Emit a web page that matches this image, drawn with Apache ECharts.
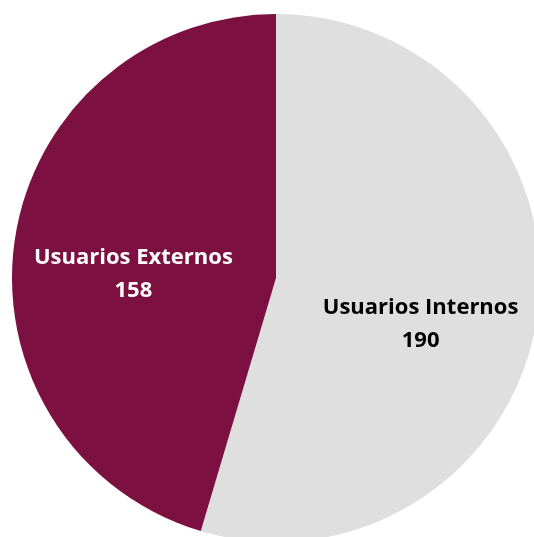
<!DOCTYPE html>
<html>
<head>
<meta charset="utf-8">
<script src="https://cdn.jsdelivr.net/npm/echarts@6/dist/echarts.min.js"></script>
<style>
  html, body { margin: 0; padding: 0; background: #ffffff; }
  #chart { width: 534px; height: 537px; }
</style>
</head>
<body>
<div id="chart"></div>
<script>
// Users by type
const categories = ['Usuarios Internos', 'Usuarios Externos'];
const values = [190, 158];
const colors = ['#dfdfdf', '#7b1041'];
const labelColors = ['#000000', '#ffffff'];
const labelOffsets = [[11, 27], [-9, 16]];

const chart = echarts.init(document.getElementById('chart'), null, { renderer: 'canvas' });

const data = categories.map((name, i) => ({
  name: name,
  value: values[i],
  itemStyle: { color: colors[i] },
  label: { color: labelColors[i], offset: labelOffsets[i] }
}));

chart.setOption({
  animation: false,
  series: [{
    type: 'pie',
    center: [276, 278],
    radius: [0, 264],
    startAngle: 90,
    clockwise: true,
    avoidLabelOverlap: false,
    itemStyle: { borderWidth: 0 },
    label: {
      show: true,
      position: 'inside',
      formatter: '{b}\n{c}',
      fontFamily: 'Open Sans',
      fontWeight: 'bold',
      fontSize: 22,
      lineHeight: 33,
      align: 'center'
    },
    labelLine: { show: false },
    emphasis: { disabled: true },
    data: data
  }]
});
</script>
</body>
</html>
